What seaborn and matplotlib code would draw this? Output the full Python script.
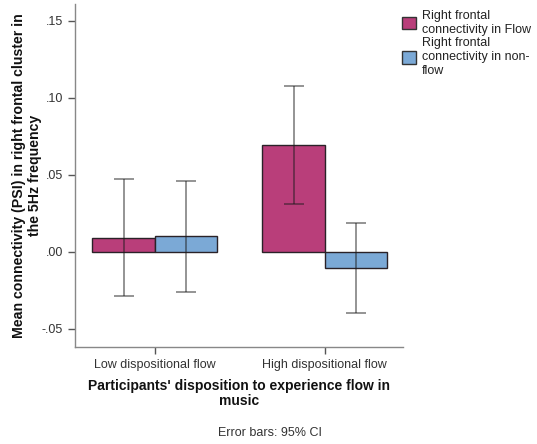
import matplotlib
matplotlib.use("Agg")
import matplotlib.pyplot as plt
import matplotlib.patches as mpatches
import seaborn as sns
import pandas as pd
import numpy as np

# Group means and 95% CI bounds
groups = ["Low dispositional flow", "High dispositional flow"]
conditions = ["Right frontal\nconnectivity in Flow", "Right frontal\nconnectivity in non-\nflow"]
flow_mean = [0.009, 0.0695]
nonflow_mean = [0.0105, -0.0105]
flow_ci_low = [-0.0288, 0.031]
flow_ci_high = [0.0472, 0.108]
nonflow_ci_low = [-0.0258, -0.0398]
nonflow_ci_high = [0.0463, 0.0186]

colors = ["#B93E7A", "#7BA9D6"]

sns.set_theme(style="ticks")
plt.rcParams["font.family"] = ["Liberation Sans", "DejaVu Sans"]

df = pd.DataFrame({
    "group": groups * 2,
    "condition": [conditions[0]] * 2 + [conditions[1]] * 2,
    "value": flow_mean + nonflow_mean,
})

fig = plt.figure(figsize=(5.37, 4.44), dpi=100)
ax = fig.add_axes([0.1397, 0.2185, 0.6108, 0.7725])

sns.barplot(data=df, x="group", y="value", hue="condition", order=groups,
            hue_order=conditions, palette=colors, saturation=1, width=0.735,
            errorbar=None, edgecolor="#2a2228", linewidth=1.0, ax=ax,
            legend=False)

# Error bars at bar centres
lows = flow_ci_low + nonflow_ci_low
highs = flow_ci_high + nonflow_ci_high
means = flow_mean + nonflow_mean
bars = [p for p in ax.patches if isinstance(p, mpatches.Rectangle)][:4]
for bar, m, lo, hi in zip(bars, means, lows, highs):
    xc = bar.get_x() + bar.get_width() / 2
    ax.errorbar(xc, m, yerr=[[m - lo], [hi - m]], fmt="none",
                ecolor=(0.1, 0.1, 0.1, 0.55), elinewidth=1.2, capsize=7,
                capthick=1.2)

ax.set_ylim(-0.0617, 0.161)
ax.set_xlim(-0.47, 1.46)
yt = [-0.05, 0.0, 0.05, 0.10, 0.15]
ax.set_yticks(yt)
ax.set_yticklabels(["-.05", ".00", ".05", ".10", ".15"])
ax.set_xticks(range(len(groups)))
ax.set_xticklabels(groups)
ax.xaxis.set_tick_params(which="major", bottom=True, length=5, width=1,
                         color="#555555", direction="out", labelsize=9,
                         labelcolor="#333333")
ax.yaxis.set_tick_params(which="major", left=True, length=5, width=1,
                         color="#555555", direction="out", labelsize=9,
                         labelcolor="#333333")
for t in ax.xaxis.get_major_ticks():
    t.tick1line.set_visible(True)
    t.tick1line.set_markersize(5)
for side in ["top", "right"]:
    ax.spines[side].set_visible(False)
for side in ["left", "bottom"]:
    ax.spines[side].set_color("#888888")
    ax.spines[side].set_linewidth(1.0)

ax.set_xlabel("Participants' disposition to experience flow in\nmusic",
              fontsize=10, fontweight="bold", color="#111111", labelpad=6,
              linespacing=1.1)
ax.set_ylabel("Mean connectivity (PSI) in right frontal cluster in\nthe 5Hz frequency",
              fontsize=10.2, fontweight="bold", color="#111111", labelpad=0,
              linespacing=1.15)

fig.text(0.503, 0.024, "Error bars: 95% CI", fontsize=9, color="#333333",
         ha="center", va="center")

handles = [mpatches.Patch(facecolor=c, edgecolor="#333333", linewidth=1.0)
           for c in colors]
leg = fig.legend(handles, conditions, loc="upper left",
                 bbox_to_anchor=(0.748, 0.978), frameon=False, fontsize=9,
                 handlelength=1.15, handleheight=1.2, handletextpad=0.45,
                 labelspacing=0.12, borderaxespad=0, borderpad=0)
for t in leg.get_texts():
    t.set_linespacing(1.22)
    t.set_color("#222222")

fig.savefig("out.png", dpi=100)
